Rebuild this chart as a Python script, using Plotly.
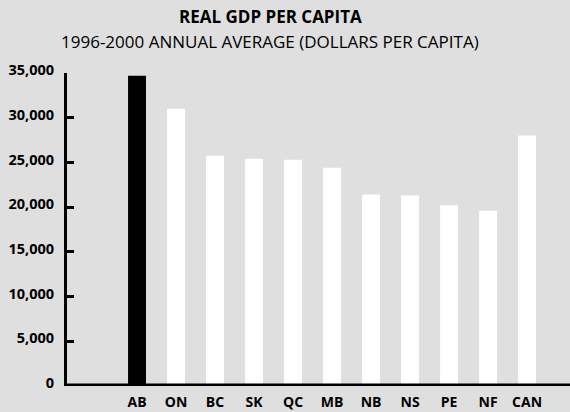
import plotly.graph_objects as go

# Real GDP per capita, 1996-2000 annual average (dollars per capita)
regions = ["AB", "ON", "BC", "SK", "QC", "MB", "NB", "NS", "PE", "NF", "CAN"]
gdp_per_capita = [34700, 31000, 25750, 25400, 25300, 24400, 21400, 21300, 20200, 19600, 28000]
bar_colors = ["#000000"] + ["#ffffff"] * 10

y_tick_values = [0, 5000, 10000, 15000, 20000, 25000, 30000, 35000]
y_tick_labels = ["0", "5,000", "10,000", "15,000", "20,000", "25,000", "30,000", "35,000"]

BG = "#dfdfdf"
INK = "#000000"
FONT = "Open Sans"

W, H = 570, 412
M_L, M_R, M_T, M_B = 67, 0, 73, 26
plot_w = W - M_L - M_R
plot_h = H - M_T - M_B

fig = go.Figure()
fig.add_trace(go.Bar(
    x=regions,
    y=gdp_per_capita,
    marker=dict(color=bar_colors, line=dict(width=0)),
    width=0.46,
    hoverinfo="x+y",
))

fig.update_layout(
    width=W,
    height=H,
    margin=dict(l=M_L, r=M_R, t=M_T, b=M_B),
    paper_bgcolor=BG,
    plot_bgcolor=BG,
    showlegend=False,
    font=dict(family=FONT, color=INK),
    xaxis=dict(
        type="category",
        range=[-1.795, 11.1],
        automargin=False,
        showline=False,
        showgrid=False,
        zeroline=False,
        ticks="",
        tickfont=dict(family=FONT, size=14, color=INK, weight="bold"),
        ticklabelstandoff=6,
    ),
    yaxis=dict(
        range=[0, 35000],
        automargin=False,
        tickvals=y_tick_values,
        ticktext=y_tick_labels,
        showline=True,
        linewidth=3,
        linecolor=INK,
        ticks="inside",
        ticklen=7,
        tickwidth=3,
        tickcolor=INK,
        showgrid=False,
        zeroline=False,
        tickfont=dict(family=FONT, size=14.5, color=INK, weight="bold"),
        ticklabelstandoff=7,
        ticklabelshift=-3,
    ),
    shapes=[
        dict(
            type="line", xref="paper", yref="y",
            x0=-0.006, x1=1.0, y0=0, y1=0,
            line=dict(color=INK, width=5),
            layer="above",
        )
    ],
    annotations=[
        dict(
            text="<b>REAL GDP PER CAPITA</b>",
            xref="paper", yref="paper",
            x=(270 - M_L) / plot_w, y=1 + (M_T - 17) / plot_h,
            xanchor="center", yanchor="middle",
            showarrow=False,
            font=dict(family=FONT, size=17, color=INK),
        ),
        dict(
            text="1996-2000 ANNUAL AVERAGE (DOLLARS PER CAPITA)",
            xref="paper", yref="paper",
            x=(270 - M_L) / plot_w, y=1 + (M_T - 42) / plot_h,
            xanchor="center", yanchor="middle",
            showarrow=False,
            font=dict(family=FONT, size=17, color=INK),
        ),
    ],
)

fig.write_html("out.html")
